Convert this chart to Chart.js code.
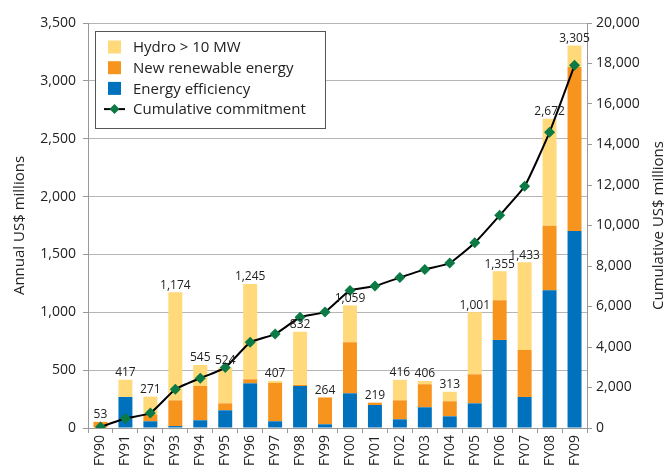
<!DOCTYPE html>
<html><head><meta charset="utf-8">
<script src="https://cdn.jsdelivr.net/npm/chart.js@4/dist/chart.umd.min.js"></script>
<style>html,body{margin:0;padding:0;background:#fff}#wrap{width:667px;height:474px}</style>
</head><body><div id="wrap"><canvas id="c" width="667" height="474"></canvas></div>
<script>
const categories = ['FY90','FY91','FY92','FY93','FY94','FY95','FY96','FY97','FY98','FY99','FY00','FY01','FY02','FY03','FY04','FY05','FY06','FY07','FY08','FY09'];
const energyEfficiency = [0, 268, 58, 17, 67, 153, 386, 58, 363, 32, 300, 199, 75, 179, 101, 213, 761, 268, 1190, 1703];
const newRenewable = [53, 0, 60, 222, 296, 60, 35, 331, 9, 232, 441, 20, 164, 199, 130, 251, 343, 406, 558, 1417];
const hydro = [0, 149, 153, 935, 182, 311, 824, 18, 460, 0, 318, 0, 177, 28, 82, 537, 251, 759, 924, 185];
const totals = [53, 417, 271, 1174, 545, 524, 1245, 407, 832, 264, 1059, 219, 416, 406, 313, 1001, 1355, 1433, 2672, 3305];
const cumulative = [53, 470, 741, 1915, 2460, 2984, 4229, 4636, 5468, 5732, 6791, 7010, 7426, 7832, 8145, 9146, 10501, 11934, 14606, 17911];
const rightTitle = 'Cumulative US$ millions';

const FONT = '"Open Sans", "Noto Sans", sans-serif';
const C_HYDRO = '#FFD97A', C_NRE = '#F7941E', C_EE = '#0071BC', C_GREEN = '#0B7A45';

const totalsPlugin = {
  id: 'totals',
  afterDatasetsDraw(chart) {
    const ctx = chart.ctx, x = chart.scales.x, y = chart.scales.y;
    ctx.save();
    ctx.font = '12px ' + FONT;
    ctx.fillStyle = '#222';
    ctx.textAlign = 'center';
    ctx.textBaseline = 'bottom';
    totals.forEach((t, i) => {
      ctx.fillText(t.toLocaleString('en-US'), x.getPixelForValue(i), y.getPixelForValue(t) - 1);
    });
    ctx.restore();
  }
};

const rightTitlePlugin = {
  id: 'rightTitle',
  afterDraw(chart) {
    const ctx = chart.ctx, a = chart.chartArea;
    ctx.save();
    ctx.translate(659, (a.top + a.bottom) / 2);
    ctx.rotate(-Math.PI / 2);
    ctx.font = '15px ' + FONT;
    ctx.fillStyle = '#222';
    ctx.textAlign = 'center';
    ctx.textBaseline = 'middle';
    ctx.fillText(rightTitle, 0, 0);
    ctx.restore();
  }
};

const legendPlugin = {
  id: 'boxLegend',
  afterDraw(chart) {
    const ctx = chart.ctx;
    const items = [
      {label: 'Hydro > 10 MW', color: C_HYDRO},
      {label: 'New renewable energy', color: C_NRE},
      {label: 'Energy efficiency', color: C_EE},
      {label: 'Cumulative commitment', line: true}
    ];
    const bx = 95.5, by = 31.5, bw = 230, bh = 97;
    ctx.save();
    ctx.fillStyle = '#fff';
    ctx.fillRect(bx, by, bw, bh);
    ctx.strokeStyle = '#555';
    ctx.lineWidth = 1;
    ctx.strokeRect(bx, by, bw, bh);
    ctx.font = '15px ' + FONT;
    ctx.textBaseline = 'middle';
    items.forEach((it, i) => {
      const cy = 47 + i * 20.7;
      if (it.line) {
        ctx.strokeStyle = '#000'; ctx.lineWidth = 2;
        ctx.beginPath(); ctx.moveTo(104, cy); ctx.lineTo(125, cy); ctx.stroke();
        ctx.fillStyle = C_GREEN;
        ctx.beginPath(); ctx.moveTo(114.5, cy - 5); ctx.lineTo(119.5, cy); ctx.lineTo(114.5, cy + 5); ctx.lineTo(109.5, cy); ctx.closePath(); ctx.fill();
      } else {
        ctx.fillStyle = it.color;
        ctx.fillRect(108, cy - 6.5, 13, 13);
      }
      ctx.fillStyle = '#222';
      ctx.fillText(it.label, 133, cy + 1);
    });
    ctx.restore();
  }
};

new Chart(document.getElementById('c'), {
  data: {
    labels: categories,
    datasets: [
      {type: 'line', label: 'Cumulative commitment', data: cumulative, yAxisID: 'y2', order: 0,
       borderColor: '#000', borderWidth: 2, tension: 0.15, pointStyle: 'rectRot', pointRadius: 5.5,
       pointBackgroundColor: C_GREEN, pointBorderColor: C_GREEN, pointBorderWidth: 0},
      {type: 'bar', label: 'Energy efficiency', data: energyEfficiency, backgroundColor: C_EE, stack: 's', yAxisID: 'y', order: 1},
      {type: 'bar', label: 'New renewable energy', data: newRenewable, backgroundColor: C_NRE, stack: 's', yAxisID: 'y', order: 1},
      {type: 'bar', label: 'Hydro > 10 MW', data: hydro, backgroundColor: C_HYDRO, stack: 's', yAxisID: 'y', order: 1}
    ]
  },
  options: {
    responsive: false, animation: false,
    layout: {padding: {top: 23, left: 0, right: 0, bottom: 0}},
    datasets: {bar: {categoryPercentage: 1, barPercentage: 0.56}},
    plugins: {legend: {display: false}, tooltip: {enabled: false}},
    scales: {
      x: {
        stacked: true,
        afterFit(s) { s.height = 46; },
        grid: {offset: true, drawOnChartArea: false, drawTicks: true, tickLength: 5, tickColor: '#999'},
        border: {color: '#999'},
        ticks: {minRotation: 90, maxRotation: 90, padding: 2, color: '#222', font: {family: FONT, size: 14}}
      },
      y: {
        stacked: true, position: 'left', min: 0, max: 3500,
        afterFit(s) { s.width = 88; },
        grid: {color: '#b5b5b5', tickLength: 5, tickColor: '#999'},
        border: {color: '#999'},
        ticks: {stepSize: 500, padding: 7, color: '#222', font: {family: FONT, size: 14},
                callback: v => v.toLocaleString('en-US')},
        title: {display: true, text: 'Annual US$ millions', color: '#222', font: {family: FONT, size: 15}, padding: {top: 11, bottom: 0}}
      },
      y2: {
        position: 'right', min: 0, max: 20000,
        afterFit(s) { s.width = 80; },
        grid: {drawOnChartArea: false, tickLength: 5, tickColor: '#999'},
        border: {color: '#999'},
        ticks: {stepSize: 2000, padding: 4, color: '#222', font: {family: FONT, size: 14},
                callback: v => v.toLocaleString('en-US')}
      }
    }
  },
  plugins: [totalsPlugin, legendPlugin, rightTitlePlugin]
});
</script></body></html>
